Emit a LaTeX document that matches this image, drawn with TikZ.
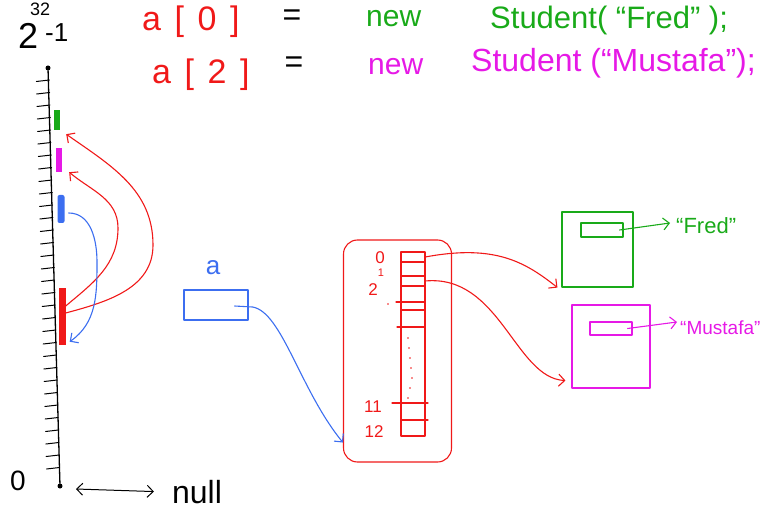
\documentclass[tikz,border=0pt]{standalone}
\usepackage{fontspec}
\setmainfont{Liberation Sans}
\usetikzlibrary{arrows.meta,calc}
\definecolor{inkred}{RGB}{240,25,25}
\definecolor{inkgreen}{RGB}{25,170,25}
\definecolor{inkmag}{RGB}{230,25,230}
\definecolor{inkblue}{RGB}{60,110,240}
\begin{document}
\begin{tikzpicture}[x=1pt,y=-1pt,
  pen/.style={line width=1.1pt,line cap=round,line join=round},
  barb/.style={-{Straight Barb[length=6pt,width=12pt]}},
  dbarb/.style={{Straight Barb[length=6pt,width=12pt]}-{Straight Barb[length=6pt,width=12pt]}},
  txt/.style={inner sep=0pt,font=\fontsize{#1}{#1}\selectfont},
  wide/.style={inner sep=0pt,font=\fontsize{34}{34}\selectfont\addfontfeature{LetterSpace=40}},
  bar/.style={draw=none,rectangle,inner sep=0pt},
  dot/.style={circle,fill=black,inner sep=0pt,minimum size=5pt},
  obj/.style={draw=#1,pen,rectangle,inner sep=0pt},
  cell/.style={rectangle,inner sep=0pt,minimum width=24pt,minimum height=10pt}]
\useasboundingbox (0,0) rectangle (767,518);

% ---- statements ----
\node[wide,inkred,anchor=base west] (a0) at (142,31) {a[0]};
\node[txt=32,anchor=base] (eq0) at (292,26) {=};
\node[txt=30,inkgreen,anchor=base west] (new0) at (366,27) {new};
\node[txt=31,inkgreen,anchor=base west] (st0) at (490,29) {Student( “Fred” );};
\node[wide,inkred,anchor=base west] (a2) at (152,84) {a[2]};
\node[txt=32,anchor=base] (eq2) at (294,73) {=};
\node[txt=30,inkmag,anchor=base west] (new2) at (368,75) {new};
\node[txt=32,inkmag,anchor=base west] (st2) at (471,72) {Student (“Mustafa”);};

% ---- address axis ----
\node[txt=36,anchor=base west] (maxaddr) at (18,49)
  {2\hspace{-8pt}\rlap{\raisebox{33pt}{\fontsize{18}{18}\selectfont 32}}\hspace{15pt}\raisebox{7pt}{\fontsize{26}{26}\selectfont -1}};
\node[dot] (topdot) at (48,68) {};
\node[dot] (botdot) at (60,486) {};
\draw[pen,line width=1.3pt] (topdot) -- (botdot);
\foreach \y in {80,92.5,...,475}{
  \pgfmathsetmacro\xx{49+(\y-67)*11/419}
  \draw[pen,line width=1pt] (\xx-13,\y+1.5) -- (\xx,\y);
}
\node[txt=28] (zero) at (18,481) {0};
\node[txt=32,anchor=base] (nulltxt) at (197,503) {null};
\draw[pen,line width=1pt,dbarb] ($(botdot)+(16,3)$) -- ($(nulltxt.west)+(-18,0)$);

% ---- objects in memory ----
\node[bar,fill=inkgreen,minimum width=6pt,minimum height=20pt] (gbar) at (57,120) {};
\node[bar,fill=inkmag,minimum width=6pt,minimum height=24pt] (mbar) at (59,160) {};
\node[bar,fill=inkblue,minimum width=7pt,minimum height=28pt,rounded corners=2pt] (bbar) at (61,209) {};
\node[bar,fill=inkred,minimum width=7pt,minimum height=57pt] (rbar) at (62,316) {};

\draw[pen,inkred,barb] ($(rbar.east)+(0,-3)$) to[out=15,in=-90] (153,245)
  to[out=90,in=-35] ($(gbar.south east)+(6,4)$);
\draw[pen,inkred,barb] ($(rbar.east)+(0,-10)$) to[out=40,in=-90] (118,228)
  to[out=90,in=-40] ($(mbar.south east)+(7,0)$);
\draw[pen,inkblue,barb] ($(bbar.east)+(4,4)$) to[out=0,in=90] (97,262)
  to[out=-90,in=35] ($(rbar.south east)+(4,-3)$);

% ---- reference variable a ----
\node[txt=26,inkblue] (alabel) at (213,268) {a};
\node[obj=inkblue,minimum width=64pt,minimum height=30pt] (abox) at (216,305) {};

% ---- array object ----
\node[obj=inkred,rounded corners=14pt,minimum width=108pt,minimum height=222pt] (arr) at (397.5,351) {};
\coordinate (arrin) at ($(arr.south west)+(0,-20)$);
\draw[pen,inkred] (401,252) rectangle (425,436);
\foreach \y in {262,276,286,302,310,327,403,420}
  \draw[pen,inkred] (401,\y) -- (425,\y);
\draw[pen,inkred] (396,302) -- (401,302) (397,327) -- (401,327)
  (392,403) -- (401,403) (425,403) -- (428,403) (425,420) -- (428,420);
\foreach \x/\y in {408/338,409/348,410/358,411/368,412/378,410/388,408/398}
  \fill[inkred] (\x,\y) circle (0.9pt);
\fill[inkred] (388,304) circle (0.9pt);
\node[cell] (c0) at (413,257) {};
\node[cell] (c2) at (413,281) {};
\node[txt=17,inkred] (i0) at (380,258) {0};
\node[txt=11,inkred] (i1) at (381,273) {1};
\node[txt=17,inkred] (i2) at (373,290) {2};
\node[txt=17,inkred] (i11) at (373,407) {11};
\node[txt=17,inkred] (i12) at (374,432) {12};

\draw[pen,inkblue,barb] ($(abox.east)+(-14,1)$) -- ($(abox.east)+(4,2)$)
  .. controls (282,312) and (300,390) .. (arrin);

% ---- Student objects ----
\node[obj=inkgreen,minimum width=71pt,minimum height=75pt] (gobj) at (597.5,249.5) {};
\node[obj=inkgreen,minimum width=42pt,minimum height=14pt] (gfield) at (602,230) {};
\node[txt=22,inkgreen,anchor=west] (fred) at (676,226) {“Fred”};
\draw[pen,inkgreen,barb] ($(gfield.east)+(-4,0)$) -- ($(fred.west)+(-6,-3)$);

\node[obj=inkmag,minimum width=78pt,minimum height=83pt] (mobj) at (611,346.5) {};
\node[obj=inkmag,minimum width=42pt,minimum height=13pt] (mfield) at (611,328.5) {};
\node[txt=19,inkmag,anchor=west] (must) at (680,328) {“Mustafa”};
\draw[pen,inkmag,barb] ($(mfield.east)+(-5,0)$) -- ($(must.west)+(-3,-6)$);

\draw[pen,inkred,barb] (c0.east) .. controls (495,244) and (525,262) .. ($(gobj.south west)+(-4,0)$);
\draw[pen,inkred,barb] (c2.east) .. controls (500,274) and (515,378) .. ($(mobj.south west)+(-6,-8)$);
\end{tikzpicture}
\end{document}
